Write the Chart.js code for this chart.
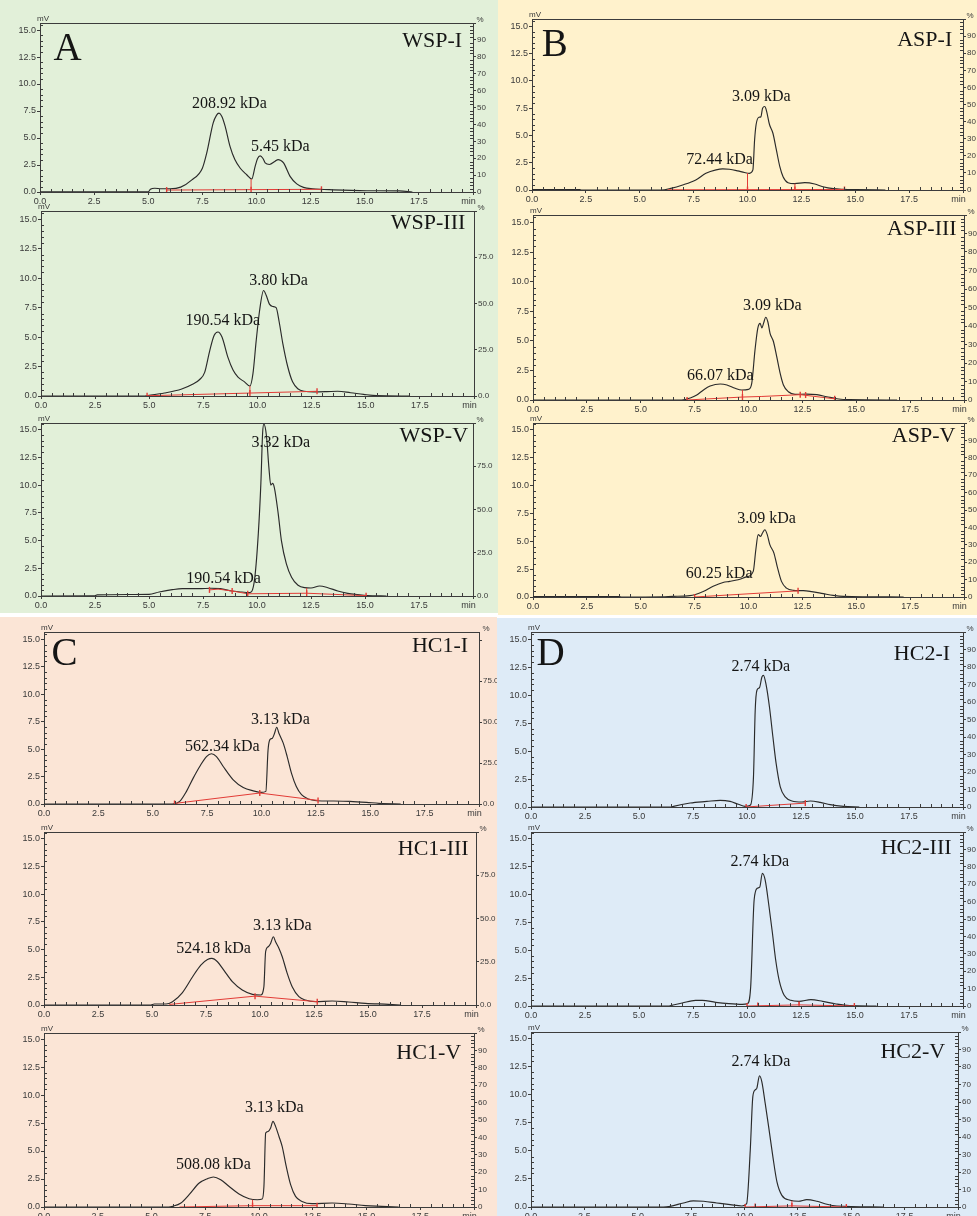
<!DOCTYPE html>
<html>
<head>
<meta charset="utf-8">
<title>HPGPC profiles of WSP, ASP, HC1 and HC2 fractions</title>
<script src="https://cdn.jsdelivr.net/npm/chart.js@4.4.1/dist/chart.umd.min.js"></script>
<style>
  html, body { margin: 0; padding: 0; background: #ffffff; }
  body { width: 977px; height: 1216px; position: relative; overflow: hidden; }
  .quad { position: absolute; overflow: hidden; }
  .quad canvas { position: absolute; }
</style>
</head>
<body>
<script>
// ---- Chromatogram traces: [retention time (min), detector response (mV)] ----
const wsp1 = [[0,0.02],[5.0,0.02],[5.1,0.25],[5.3,0.35],[5.6,0.3],[6.0,0.3],[6.5,0.45],[7.0,1.1],[7.5,2.2],[7.7,3.6],[8.0,6.4],[8.15,7.1],[8.27,7.3],[8.4,7.0],[8.55,6.1],[8.78,4.2],[9.0,3.0],[9.25,2.2],[9.55,1.6],[9.78,1.2],[9.94,2.4],[10.05,3.1],[10.17,3.35],[10.3,3.1],[10.4,2.7],[10.6,2.55],[10.86,2.85],[11.0,3.0],[11.1,2.95],[11.25,2.7],[11.55,1.45],[11.86,0.75],[12.17,0.43],[12.6,0.3],[13.55,0.2],[15.1,0.12],[16.6,0.1],[17.2,0.0]];
const wsp3 = [[0,0],[4.8,0],[5.0,0.05],[5.7,0.25],[6.5,0.6],[7.0,1.0],[7.33,1.4],[7.56,2.0],[7.8,3.9],[8.0,5.15],[8.17,5.43],[8.36,5.0],[8.63,3.3],[8.87,2.2],[9.1,1.6],[9.4,1.2],[9.65,0.85],[9.79,1.9],[9.94,4.7],[10.1,7.3],[10.28,8.95],[10.4,8.55],[10.55,7.8],[10.7,7.6],[10.86,7.5],[11.0,6.3],[11.17,4.45],[11.4,2.46],[11.62,1.2],[11.86,0.62],[12.16,0.4],[12.6,0.35],[13.2,0.37],[13.7,0.4],[14.3,0.28],[14.9,0.14],[15.5,0.03],[17.0,0]];
const wsp5 = [[0,0],[2.5,0.02],[2.6,0.1],[5.0,0.15],[5.47,0.36],[6.08,0.57],[6.54,0.66],[7.3,0.66],[7.9,0.7],[8.3,0.66],[8.84,0.45],[9.3,0.36],[9.6,0.3],[9.75,0.4],[9.9,1.7],[10.06,5.6],[10.18,10.2],[10.26,14.7],[10.32,15.5],[10.44,14.4],[10.55,11.6],[10.64,10.0],[10.72,10.15],[10.8,9.8],[10.98,7.45],[11.13,5.0],[11.36,2.9],[11.6,1.7],[11.9,0.97],[12.2,0.75],[12.5,0.72],[12.9,0.9],[13.28,0.75],[13.74,0.45],[14.2,0.24],[14.66,0.12],[15.1,0.03],[16.0,0]];
const asp1 = [[0,0.05],[2.2,0.05],[2.3,0],[6.0,0],[6.44,0.15],[6.99,0.46],[7.6,0.92],[8.07,1.53],[8.54,1.84],[8.85,1.93],[9.16,1.9],[9.55,1.75],[9.86,1.6],[10.09,1.53],[10.25,1.84],[10.33,4.6],[10.4,6.0],[10.53,6.67],[10.62,6.7],[10.7,7.5],[10.8,7.65],[10.87,7.35],[11.02,6.0],[11.18,5.2],[11.34,3.67],[11.5,2.14],[11.65,1.22],[11.88,0.67],[12.19,0.58],[12.66,0.67],[13.12,0.55],[13.5,0.3],[13.98,0.12],[14.44,0.06],[15.06,0.03],[16.4,0]];
const asp3 = [[0,0],[6.9,0],[7.3,0.17],[7.6,0.42],[7.91,0.85],[8.22,1.18],[8.69,1.35],[9.0,1.27],[9.38,0.99],[9.69,0.85],[10.0,0.9],[10.15,1.41],[10.3,4.2],[10.43,6.06],[10.54,6.48],[10.62,6.1],[10.7,6.5],[10.8,7.0],[10.9,6.6],[11.0,5.64],[11.16,4.93],[11.31,3.66],[11.47,2.25],[11.62,1.27],[11.85,0.7],[12.16,0.48],[12.7,0.5],[13.17,0.45],[13.63,0.28],[14.1,0.11],[14.7,0.03],[16.9,0]];
const asp5 = [[0,0.03],[4.0,0.03],[4.1,0],[6.0,0.02],[6.5,0.06],[7.28,0.12],[7.9,0.5],[8.36,0.96],[8.82,1.3],[9.13,1.4],[9.52,1.55],[9.9,1.8],[10.22,2.3],[10.34,4.24],[10.45,5.59],[10.56,5.44],[10.65,5.74],[10.76,6.03],[10.87,5.59],[10.99,4.69],[11.18,3.94],[11.33,2.75],[11.53,1.4],[11.76,0.8],[12.07,0.6],[12.54,0.57],[12.93,0.48],[13.47,0.3],[13.93,0.15],[14.4,0.06],[17.2,0]];
const hc1a = [[0,0],[5.9,0],[6.24,0.24],[6.55,1.15],[6.86,2.36],[7.16,3.42],[7.47,4.33],[7.7,4.58],[7.93,4.33],[8.24,3.42],[8.7,2.2],[9.16,1.5],[9.62,1.2],[10.0,1.06],[10.2,1.15],[10.3,4.9],[10.38,5.85],[10.5,6.0],[10.6,6.45],[10.7,7.0],[10.8,6.45],[11.0,5.55],[11.18,4.33],[11.38,2.8],[11.6,1.6],[11.84,0.85],[12.15,0.45],[12.53,0.3],[13.3,0.27],[14.06,0.24],[14.83,0.15],[15.4,0.06],[16.4,0]];
const hc1b = [[0,0],[4.95,0],[5.1,0.09],[5.65,0.09],[5.95,0.3],[6.4,1.1],[6.88,2.55],[7.26,3.6],[7.57,4.1],[7.77,4.2],[8.03,3.9],[8.34,3.1],[8.72,2.1],[9.18,1.35],[9.65,0.96],[10.03,0.9],[10.18,1.65],[10.26,4.8],[10.38,5.25],[10.49,5.55],[10.62,6.15],[10.72,5.7],[10.88,5.1],[11.03,4.35],[11.26,2.85],[11.49,1.65],[11.8,0.75],[12.1,0.45],[12.57,0.3],[13.34,0.36],[14.1,0.27],[14.88,0.15],[15.95,0.06],[16.5,0]];
const hc1c = [[0,0],[5.8,0],[5.98,0.06],[6.37,0.36],[6.75,1.1],[7.22,2.14],[7.6,2.53],[7.88,2.68],[8.22,2.44],[8.6,1.85],[9.07,1.16],[9.54,0.74],[9.92,0.65],[10.15,0.71],[10.23,1.85],[10.31,6.6],[10.43,6.75],[10.54,7.05],[10.65,7.65],[10.77,7.2],[10.93,6.3],[11.08,5.4],[11.27,3.6],[11.47,2.0],[11.7,0.95],[12.0,0.5],[12.47,0.3],[13.4,0.36],[14.17,0.27],[14.95,0.12],[15.7,0.06],[16.5,0]];
const hc2a = [[0,0],[6.5,0],[6.6,0.06],[7.37,0.36],[8.14,0.5],[8.76,0.6],[9.22,0.5],[9.6,0.24],[9.91,0.06],[10.15,0.15],[10.3,2.7],[10.38,8.66],[10.46,10.46],[10.58,10.7],[10.69,11.65],[10.76,11.8],[10.89,10.9],[11.04,8.96],[11.2,6.27],[11.35,3.88],[11.54,1.8],[11.77,0.9],[12.08,0.54],[12.54,0.45],[12.93,0.54],[13.39,0.42],[13.85,0.21],[14.47,0.06],[15.2,0]];
const hc2b = [[0,0],[6.4,0],[6.53,0.06],[7.0,0.27],[7.62,0.51],[7.93,0.51],[8.55,0.33],[9.16,0.21],[9.78,0.15],[10.02,0.21],[10.17,1.7],[10.33,9.5],[10.48,10.56],[10.59,10.65],[10.71,11.9],[10.84,11.3],[11.02,8.9],[11.18,6.5],[11.33,4.1],[11.49,2.3],[11.72,0.96],[12.03,0.51],[12.41,0.42],[12.96,0.57],[13.5,0.42],[14.12,0.18],[14.74,0.03],[16.0,0]];
const hc2c = [[0,0],[6.2,0],[6.52,0.06],[7.14,0.36],[7.6,0.54],[8.08,0.51],[8.7,0.36],[9.33,0.21],[9.88,0.09],[10.1,0.3],[10.27,5.07],[10.39,9.84],[10.5,10.44],[10.58,10.6],[10.7,11.7],[10.81,11.18],[10.97,9.24],[11.13,7.16],[11.33,4.47],[11.52,2.24],[11.75,1.04],[12.14,0.6],[12.53,0.51],[12.92,0.66],[13.39,0.51],[13.86,0.24],[14.33,0.09],[16.5,0]];

// ---- Integration baselines, peak-cut marks and drop lines (red) ----
const wsp1Base = [[5.85,0.18],[13.0,0.25]];
const wsp1Marks = [[5.85,0.18],[9.75,0.2],[13.0,0.25]];
const wsp1Drops = [[9.75,0.2],[9.75,1.2]];
const wsp3Base = [[4.9,0.02],[9.65,0.25],[12.75,0.4]];
const wsp3Marks = [[4.9,0.02],[9.65,0.25],[12.75,0.4]];
const wsp3Drops = [[9.65,0.25],[9.65,0.85]];
const wsp5Base = [[7.8,0.55],[8.2,0.62],[8.85,0.45],[9.57,0.2],[12.3,0.25],[15.05,0.03]];
const wsp5Marks = [[7.8,0.55],[8.85,0.45],[9.57,0.2],[12.3,0.25],[15.05,0.03]];
const wsp5Drops = [[12.3,0.25],[12.3,0.72]];
const asp1Base = [[6.3,0.02],[14.5,0.05]];
const asp1Marks = [[10.0,0.04],[12.2,0.04],[14.5,0.05]];
const asp1Drops = [[10.0,0.04],[10.0,1.55],[11.0,null],[12.2,0.04],[12.2,0.58]];
const asp3Base = [[7.15,0.0],[9.72,0.25],[10.62,0.3],[12.4,0.45],[14.0,0.1]];
const asp3Marks = [[7.15,0.0],[9.72,0.25],[12.4,0.45],[12.65,0.42],[14.0,0.1]];
const asp3Drops = [[9.72,0.25],[9.72,0.85]];
const asp5Base = [[7.5,0.0],[12.3,0.55]];
const asp5Marks = [[7.5,0.0],[12.3,0.55]];
const asp5Drops = [];
const hc1aBase = [[6.0,0.05],[9.92,1.0],[12.6,0.33]];
const hc1aMarks = [[6.0,0.05],[9.92,1.0],[12.6,0.33]];
const hc1aDrops = [];
const hc1bBase = [[5.8,0.05],[9.77,0.8],[12.65,0.3]];
const hc1bMarks = [[9.77,0.8],[12.65,0.3]];
const hc1bDrops = [];
const hc1cBase = [[6.3,0.0],[9.7,0.12],[12.7,0.12]];
const hc1cMarks = [[9.7,0.12],[12.7,0.12]];
const hc1cDrops = [[9.7,0.12],[9.7,0.65]];
const hc2aBase = [[9.96,0.0],[12.7,0.35]];
const hc2aMarks = [[9.96,0.0],[12.7,0.35]];
const hc2aDrops = [];
const hc2bBase = [[10.0,0.0],[12.41,0.1],[14.97,0.0]];
const hc2bMarks = [[10.0,0.0],[10.5,0.05],[12.41,0.1],[14.97,0.0]];
const hc2bDrops = [[12.41,0.1],[12.41,0.42]];
const hc2cBase = [[10.03,0.0],[12.22,0.1],[14.77,0.0]];
const hc2cMarks = [[10.03,0.0],[10.5,0.04],[12.22,0.1],[14.77,0.0]];
const hc2cDrops = [[12.22,0.1],[12.22,0.55]];

// ---- Text: sample names, group letters, molecular weights ----
const sampleNames = ['WSP-I','WSP-III','WSP-V','ASP-I','ASP-III','ASP-V','HC1-I','HC1-III','HC1-V','HC2-I','HC2-III','HC2-V'];
const groupLetters = ['A','B','C','D'];
const molWeights = [
  ['208.92 kDa','5.45 kDa'], ['190.54 kDa','3.80 kDa'], ['3.32 kDa','190.54 kDa'],
  ['3.09 kDa','72.44 kDa'], ['3.09 kDa','66.07 kDa'], ['3.09 kDa','60.25 kDa'],
  ['3.13 kDa','562.34 kDa'], ['3.13 kDa','524.18 kDa'], ['3.13 kDa','508.08 kDa'],
  ['2.74 kDa'], ['2.74 kDa'], ['2.74 kDa']
];
const timeTicks = [0, 2.5, 5, 7.5, 10, 12.5, 15, 17.5, 20];

// ---- Page layout ----
const quads = [
  { left: 0,   top: 0,   w: 498, h: 613, bg: '#e2f0d9' },
  { left: 498, top: 0,   w: 479, h: 615, bg: '#fff2cc' },
  { left: 0,   top: 617, w: 497, h: 599, bg: '#fbe5d6' },
  { left: 497, top: 618, w: 480, h: 598, bg: '#deebf7' }
];

// box = plot area [left, top, right, bottom] in page pixels
const panels = [
  { q: 0, box: [40, 23, 473, 192],    ymax: 15.65, pmax: 100, pstep: 10, trace: wsp1, base: wsp1Base, marks: wsp1Marks, drops: wsp1Drops, namePos: [19.5, 13.45], letter: 0, letterPos: [0.62, 12.2], mwPos: [[8.75, 8.15], [11.1, 4.2]] },
  { q: 0, box: [41, 211, 474, 396],   ymax: 15.7,  pmax: 100, pstep: 25, trace: wsp3, base: wsp3Base, marks: wsp3Marks, drops: wsp3Drops, namePos: [19.6, 14.2], mwPos: [[8.4, 6.35], [10.97, 9.8]] },
  { q: 0, box: [41, 423, 473, 596],   ymax: 15.6,  pmax: 100, pstep: 25, trace: wsp5, base: wsp5Base, marks: wsp5Marks, drops: wsp5Drops, namePos: [19.77, 13.9], mwPos: [[11.1, 13.8], [8.45, 1.57]] },
  { q: 1, box: [532, 19, 963, 190],   ymax: 15.67, pmax: 100, pstep: 10, trace: asp1, base: asp1Base, marks: asp1Marks, drops: asp1Drops, namePos: [19.5, 13.2], letter: 1, letterPos: [0.45, 12.3], mwPos: [[10.64, 8.5], [8.7, 2.75]] },
  { q: 1, box: [533, 215, 964, 400],  ymax: 15.65, pmax: 100, pstep: 10, trace: asp3, base: asp3Base, marks: asp3Marks, drops: asp3Drops, namePos: [19.66, 14.0], mwPos: [[11.1, 7.95], [8.69, 2.03]] },
  { q: 1, box: [533, 423, 964, 597],  ymax: 15.6,  pmax: 100, pstep: 10, trace: asp5, base: asp5Base, marks: asp5Marks, drops: asp5Drops, namePos: [19.6, 13.87], mwPos: [[10.84, 7.0], [8.64, 2.06]] },
  { q: 2, box: [44, 632, 479, 804],   ymax: 15.69, pmax: 105, pstep: 25, trace: hc1a, base: hc1aBase, marks: hc1aMarks, drops: hc1aDrops, namePos: [19.5, 13.87], letter: 2, letterPos: [0.34, 12.66], mwPos: [[10.87, 7.67], [8.2, 5.24]] },
  { q: 2, box: [44, 832, 476, 1005],  ymax: 15.6,  pmax: 100, pstep: 25, trace: hc1b, base: hc1bBase, marks: hc1bMarks, drops: hc1bDrops, namePos: [19.66, 13.56], mwPos: [[11.03, 7.1], [7.85, 5.1]] },
  { q: 2, box: [44, 1033, 474, 1207], ymax: 15.54, pmax: 100, pstep: 10, trace: hc1c, base: hc1cBase, marks: hc1cMarks, drops: hc1cDrops, namePos: [19.4, 13.2], mwPos: [[10.71, 8.9], [7.88, 3.78]] },
  { q: 3, box: [531, 632, 963, 807],  ymax: 15.68, pmax: 100, pstep: 10, trace: hc2a, base: hc2aBase, marks: hc2aMarks, drops: hc2aDrops, namePos: [19.4, 13.15], letter: 3, letterPos: [0.26, 12.7], mwPos: [[10.64, 12.55]] },
  { q: 3, box: [531, 832, 963, 1006], ymax: 15.6,  pmax: 100, pstep: 10, trace: hc2b, base: hc2bBase, marks: hc2bMarks, drops: hc2bDrops, namePos: [19.47, 13.6], mwPos: [[10.59, 12.96]] },
  { q: 3, box: [531, 1032, 958, 1207], ymax: 15.6, pmax: 100, pstep: 10, trace: hc2c, base: hc2cBase, marks: hc2cMarks, drops: hc2cDrops, namePos: [19.4, 13.27], mwPos: [[10.77, 12.97]] }
];

const AXIS = '#3c3c3c';
const TICK_TXT = '#3a3a3a';
const RED = '#e23b36';
const TRACE = '#2a2a2a';
const PAD_L = 45, PAD_R = 20, PAD_T = 14, PAD_B = 16;

// Frame, minor ticks and annotation text drawn through the chart's scales
const chromAnnotations = {
  id: 'chromAnnotations',
  afterDraw(chart) {
    const o = chart.options.plugins.chromAnnotations;
    const { ctx, chartArea: a, scales } = chart;
    const xs = scales.x, ys = scales.y, ps = scales.y2;
    ctx.save();
    ctx.strokeStyle = AXIS;
    ctx.lineWidth = 1;
    ctx.beginPath();
    ctx.moveTo(a.left, a.top + 0.5);
    ctx.lineTo(a.right, a.top + 0.5);
    ctx.stroke();

    ctx.beginPath();
    for (let i = 1; i < 40; i++) {
      if (i % 5 === 0) continue;
      const px = Math.round(xs.getPixelForValue(i * 0.5)) + 0.5;
      ctx.moveTo(px, a.bottom);
      ctx.lineTo(px, a.bottom - 3);
    }
    for (let i = 1; i * 0.5 < o.ymax; i++) {
      if (i % 5 === 0) continue;
      const py = Math.round(ys.getPixelForValue(i * 0.5)) + 0.5;
      ctx.moveTo(a.left, py);
      ctx.lineTo(a.left + 3, py);
    }
    if (o.pstep === 10) {
      for (let v = 2; v < o.pmax; v += 2) {
        if (v % 10 === 0) continue;
        const py = Math.round(ps.getPixelForValue(v)) + 0.5;
        ctx.moveTo(a.right, py);
        ctx.lineTo(a.right - 3, py);
      }
    }
    ctx.stroke();

    // unit captions
    ctx.fillStyle = TICK_TXT;
    ctx.font = '8px "Liberation Sans", Arial, sans-serif';
    ctx.textBaseline = 'alphabetic';
    ctx.textAlign = 'center';
    ctx.fillText('mV', a.left + 3, a.top - 2);
    ctx.fillText('%', a.right + 7, a.top - 1);

    // sample name
    ctx.fillStyle = '#151515';
    ctx.font = '22px "Liberation Serif", "Times New Roman", serif';
    ctx.textAlign = 'right';
    ctx.fillText(o.name, xs.getPixelForValue(o.namePos[0]), ys.getPixelForValue(o.namePos[1]));

    // group letter
    if (o.letter) {
      ctx.font = '39px "Liberation Serif", "Times New Roman", serif';
      ctx.textAlign = 'left';
      ctx.fillText(o.letter, xs.getPixelForValue(o.letterPos[0]), ys.getPixelForValue(o.letterPos[1]));
    }

    // molecular weight labels
    ctx.font = '16px "Liberation Serif", "Times New Roman", serif';
    ctx.textAlign = 'center';
    ctx.textBaseline = 'middle';
    o.mw.forEach((t, i) => {
      const p = o.mwPos[i];
      ctx.fillText(t, xs.getPixelForValue(p[0]), ys.getPixelForValue(p[1]));
    });
    ctx.restore();
  }
};

const quadEls = quads.map(q => {
  const d = document.createElement('div');
  d.className = 'quad';
  Object.assign(d.style, { left: q.left + 'px', top: q.top + 'px', width: q.w + 'px', height: q.h + 'px', background: q.bg });
  document.body.appendChild(d);
  return d;
});

const tickFont = { family: '"Liberation Sans", Arial, sans-serif', size: 9 };

panels.forEach((p, idx) => {
  const q = quads[p.q];
  const [L, T, R, B] = p.box;
  const cw = R - L + PAD_L + PAD_R;
  const ch = B - T + PAD_T + PAD_B;
  const cv = document.createElement('canvas');
  cv.width = cw; cv.height = ch;
  Object.assign(cv.style, { left: (L - PAD_L - q.left) + 'px', top: (T - PAD_T - q.top) + 'px', width: cw + 'px', height: ch + 'px' });
  quadEls[p.q].appendChild(cv);

  const red = { borderColor: RED, backgroundColor: RED, borderWidth: 1, pointRadius: 0, tension: 0, fill: false };
  new Chart(cv.getContext('2d'), {
    type: 'line',
    data: {
      datasets: [
        { data: p.marks, showLine: false, pointStyle: 'line', rotation: 90, pointRadius: 3, borderColor: RED, pointBorderColor: RED, pointBorderWidth: 1.4 },
        Object.assign({ data: p.drops, spanGaps: false }, red),
        Object.assign({ data: p.base }, red),
        { data: p.trace, borderColor: TRACE, borderWidth: 1.15, pointRadius: 0, cubicInterpolationMode: 'monotone', fill: false }
      ]
    },
    options: {
      responsive: false,
      animation: false,
      events: [],
      devicePixelRatio: 1,
      layout: { padding: { top: PAD_T, left: 0, right: 0, bottom: 0 } },
      plugins: {
        legend: { display: false },
        tooltip: { enabled: false },
        chromAnnotations: {
          ymax: p.ymax, pmax: p.pmax, pstep: p.pstep,
          name: sampleNames[idx], namePos: p.namePos,
          letter: p.letter !== undefined ? groupLetters[p.letter] : null, letterPos: p.letterPos,
          mw: molWeights[idx], mwPos: p.mwPos
        }
      },
      scales: {
        x: {
          type: 'linear', min: 0, max: 20,
          border: { color: AXIS, width: 1 },
          grid: { drawOnChartArea: false, tickLength: 3, color: AXIS },
          afterBuildTicks: s => { s.ticks = timeTicks.map(v => ({ value: v })); },
          ticks: { autoSkip: false, maxRotation: 0, padding: 1, color: TICK_TXT, font: tickFont,
                   // the end-of-axis unit sits just inside the last tick
                   callback: v => (v === 20 ? 'min\u2002\u2002' : v.toFixed(1)) },
          afterFit: s => { s.height = PAD_B; }
        },
        y: {
          position: 'left', min: 0, max: p.ymax,
          border: { color: AXIS, width: 1 },
          grid: { drawOnChartArea: false, tickLength: 3, color: AXIS },
          ticks: { stepSize: 2.5, includeBounds: false, padding: 1, color: TICK_TXT, font: tickFont,
                   callback: v => v.toFixed(1) },
          afterFit: s => { s.width = PAD_L; }
        },
        y2: {
          position: 'right', min: 0, max: p.pmax,
          border: { color: AXIS, width: 1 },
          grid: { drawOnChartArea: false, tickLength: 3, color: AXIS },
          ticks: { stepSize: p.pstep, includeBounds: false, padding: 1, color: TICK_TXT,
                   font: { family: tickFont.family, size: 8 },
                   callback: v => (v >= 100 ? '' : (p.pstep === 25 ? v.toFixed(1) : String(v))) },
          afterFit: s => { s.width = PAD_R; }
        }
      }
    },
    plugins: [chromAnnotations]
  });
});
</script>
</body>
</html>
